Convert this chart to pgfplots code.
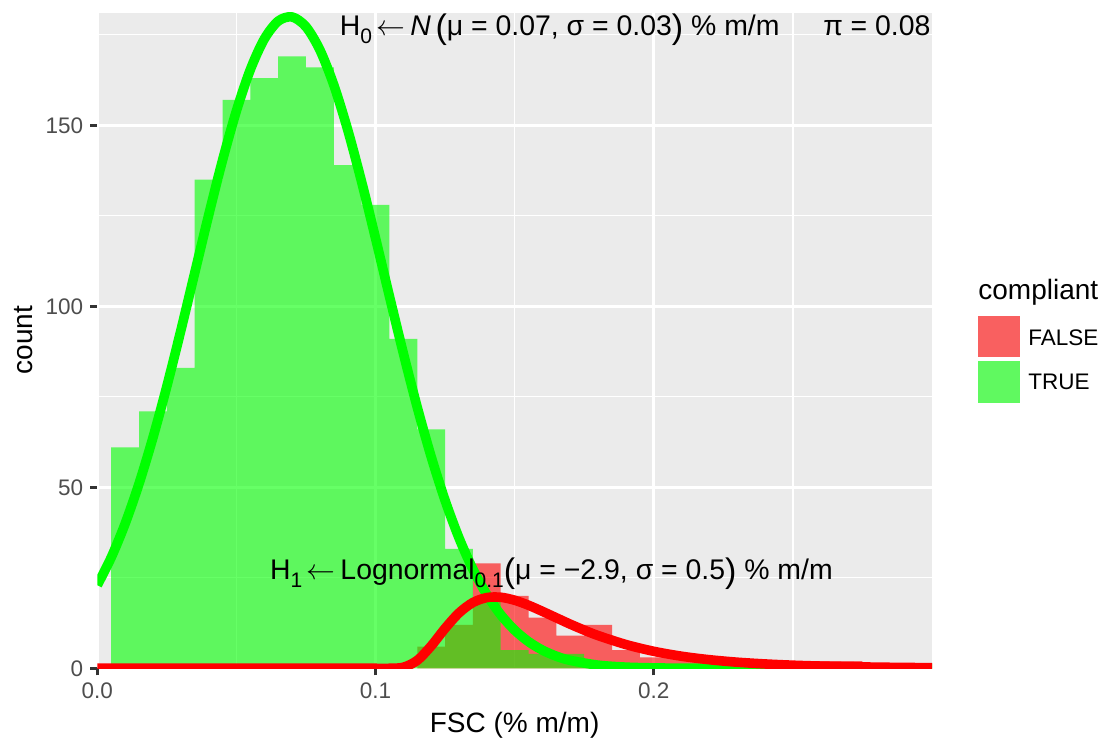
\documentclass[border=0pt]{standalone}
\usepackage{fontspec}
\setmainfont{Liberation Sans}
\usepackage{pgfplots}
\pgfplotsset{compat=1.18}

\definecolor{panelgrey}{HTML}{EBEBEB}
\definecolor{ticktext}{HTML}{4D4D4D}
\definecolor{tickline}{HTML}{333333}
\definecolor{keygrey}{HTML}{F2F2F2}
\definecolor{lnred}{HTML}{FF0000}
\definecolor{lngreen}{HTML}{00FF00}

\newcommand\sub[1]{\raisebox{-0.26em}{\fontsize{10.5}{10.5}\selectfont #1}}
\newcommand\bp[1]{\raisebox{-0.1em}{\fontsize{17}{17}\selectfont #1}}
\newcommand\arr{\,$\leftarrow$\,}

\begin{document}
\begin{tikzpicture}
\useasboundingbox (-48.65pt,-36.85pt) rectangle (505.35pt,334.15pt);
\begin{axis}[
  at={(0,0)}, anchor=south west,
  scale only axis, width=417.35pt, height=327.8pt,
  xmin=0, xmax=0.3, ymin=0, ymax=181.1,
  axis background/.style={fill=panelgrey},
  axis line style={draw=none},
  xtick={0,0.1,0.2}, xticklabels={0.0,0.1,0.2},
  ytick={0,50,100,150}, yticklabels={0,50,100,150},
  minor xtick={0.05,0.15,0.25}, minor ytick={25,75,125,175},
  grid=both,
  major grid style={white, line width=1.35pt},
  minor grid style={white, line width=0.7pt},
  xtick pos=left, ytick pos=left,
  tick align=outside, major tick length=3.5pt, minor tick length=0pt,
  tick style={tickline, line width=1.35pt},
  ticklabel style={font=\fontsize{11.25}{13}\selectfont, text=ticktext},
  clip mode=individual,
]
% histogram of non-compliant samples
\addplot[ybar interval, draw=none, fill=lnred, fill opacity=0.6] coordinates {
  (0.115,6) (0.125,12) (0.135,29) (0.145,20) (0.155,14) (0.165,9) (0.175,12)
  (0.185,5) (0.195,3) (0.205,3) (0.215,2) (0.225,2) (0.235,1) (0.245,1)
  (0.255,2) (0.265,2) (0.275,0)};
% histogram of compliant samples
\addplot[ybar interval, draw=none, fill=lngreen, fill opacity=0.6] coordinates {
  (0.005,61) (0.015,71) (0.025,83) (0.035,135) (0.045,157) (0.055,163)
  (0.065,169) (0.075,166) (0.085,139) (0.095,128) (0.105,91) (0.115,66)
  (0.125,33) (0.135,19) (0.145,5) (0.155,4) (0.165,4) (0.175,1) (0.185,0)};
% H0 density, scaled to counts
\addplot[lngreen, line width=4.8pt, smooth, line join=round] coordinates {
  (0,22.96) (0.005,30.62) (0.01,39.94) (0.015,51.00) (0.02,63.72) (0.025,77.91)
  (0.03,93.23) (0.035,109.18) (0.04,125.11) (0.045,140.31) (0.05,153.98)
  (0.055,165.37) (0.06,173.80) (0.065,178.76) (0.07,179.92) (0.075,177.22)
  (0.08,170.82) (0.085,161.13) (0.09,148.74) (0.095,134.37) (0.1,118.79)
  (0.105,102.76) (0.11,87.00) (0.115,72.08) (0.12,58.44) (0.125,46.37)
  (0.13,36.00) (0.135,27.35) (0.14,20.34) (0.145,14.80) (0.15,10.54)
  (0.155,7.35) (0.16,5.01) (0.165,3.34) (0.17,2.18) (0.18,0.87) (0.19,0.32)
  (0.2,0.11) (0.21,0.03) (0.22,0.01) (0.23,0) (0.25,0) (0.27,0) (0.3,0)};
% H1 density, scaled to counts
\addplot[lnred, line width=4.8pt, smooth, line join=round] coordinates {
  (0,0) (0.05,0) (0.09,0) (0.095,0) (0.1,0) (0.105,0.002) (0.11,0.285)
  (0.115,2.176) (0.12,6.175) (0.125,11.03) (0.13,15.29) (0.135,18.17)
  (0.14,19.53) (0.145,19.62) (0.15,18.80) (0.155,17.41) (0.16,15.72)
  (0.165,13.94) (0.17,12.18) (0.175,10.54) (0.18,9.04) (0.19,6.56) (0.2,4.69)
  (0.21,3.33) (0.22,2.37) (0.23,1.68) (0.24,1.20) (0.25,0.85) (0.26,0.61)
  (0.27,0.44) (0.28,0.32) (0.29,0.23) (0.3,0.17)};

\node[anchor=base, inner sep=0pt, font=\fontsize{14.2}{17}\selectfont]
  at (axis cs:0.1662,174.7)
  {H\sub{0}\arr\textit{N}\,\bp{(}μ = 0.07, σ = 0.03\bp{)} \% m/m};
\node[anchor=base east, inner sep=0pt, font=\fontsize{14.2}{17}\selectfont]
  at (axis cs:0.2996,174.7) {π = 0.08};
\node[anchor=base, inner sep=0pt, font=\fontsize{14.2}{17}\selectfont]
  at (axis cs:0.1632,24.4)
  {H\sub{1}\arr Lognormal\sub{0.1}\bp{(}μ = −2.9, σ = 0.5\bp{)} \% m/m};
\end{axis}

% axis titles
\node[anchor=base, inner sep=0pt, font=\fontsize{14}{16}\selectfont]
  at (208.65pt,-32.35pt) {FSC (\% m/m)};
\node[anchor=base, rotate=90, inner sep=0pt, font=\fontsize{14}{16}\selectfont]
  at (-32.15pt,164.15pt) {count};

% legend
\node[anchor=base west, inner sep=0pt, font=\fontsize{14}{16}\selectfont]
  at (440.35pt,184.15pt) {compliant};
\fill[keygrey] (440.5pt,155.5pt) rectangle (461.35pt,176.15pt);
\fill[lnred, fill opacity=0.6] (440.5pt,155.5pt) rectangle (461.35pt,176.15pt);
\fill[keygrey] (440.5pt,132.8pt) rectangle (461.35pt,153.8pt);
\fill[lngreen, fill opacity=0.6] (440.5pt,132.8pt) rectangle (461.35pt,153.8pt);
\node[anchor=base west, inner sep=0pt, font=\fontsize{11.25}{13}\selectfont]
  at (465.35pt,161.15pt) {FALSE};
\node[anchor=base west, inner sep=0pt, font=\fontsize{11.25}{13}\selectfont]
  at (465.35pt,139.15pt) {TRUE};
\end{tikzpicture}
\end{document}
